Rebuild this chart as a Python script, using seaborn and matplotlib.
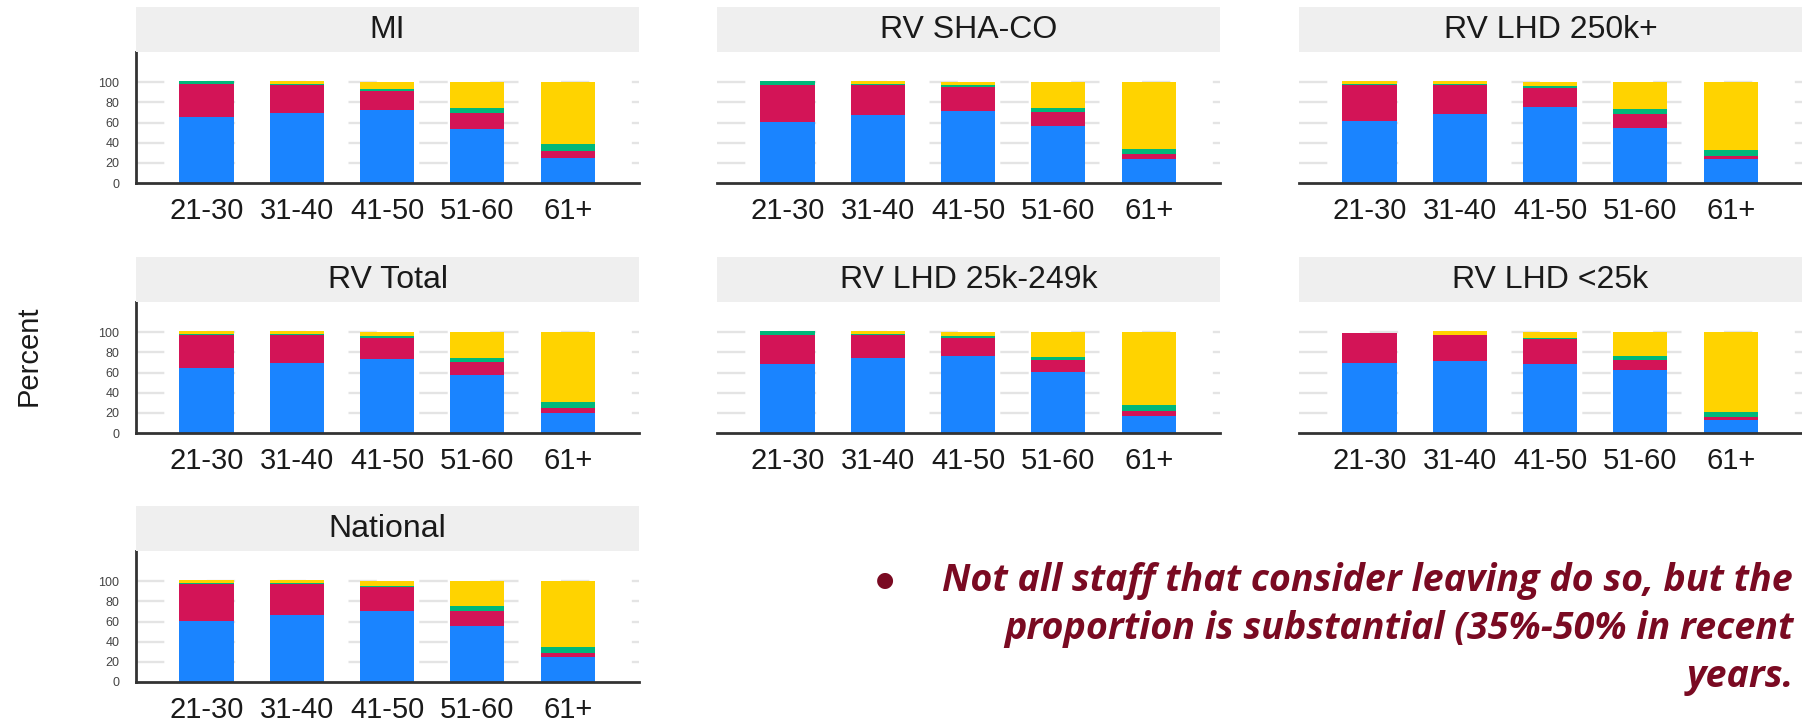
import numpy as np
import pandas as pd
import matplotlib
matplotlib.use("Agg")
import matplotlib.pyplot as plt
import seaborn as sns

# ---------------- data ----------------
PANELS = ["MI", "RV SHA-CO", "RV LHD 250k+", "RV Total",
          "RV LHD 25k-249k", "RV LHD <25k", "National"]
AGES = ["21-30", "31-40", "41-50", "51-60", "61+"]

# bottom segment (blue)
BLUE = [
    [65.8, 69.0, 72.4, 53.3, 24.7],
    [60.9, 67.1, 71.4, 56.6, 24.3],
    [61.2, 68.4, 75.0, 55.0, 23.4],
    [64.6, 69.8, 73.4, 58.0, 20.3],
    [68.5, 74.8, 76.0, 60.3, 16.7],
    [69.5, 71.5, 68.5, 62.6, 13.1],
    [61.0, 66.9, 70.5, 55.7, 24.6],
]
# second segment (crimson)
RED = [
    [32.2, 28.4, 18.6, 15.7, 6.6],
    [36.8, 30.3, 24.3, 13.8, 4.0],
    [36.5, 29.0, 19.0, 13.0, 3.6],
    [33.1, 27.9, 21.0, 12.5, 4.3],
    [28.9, 22.6, 18.4, 12.5, 5.6],
    [30.2, 25.9, 24.9, 9.5, 3.0],
    [36.7, 30.8, 23.6, 15.1, 3.9],
]
# third segment (green)
GREEN = [
    [3.3, 0.5, 1.8, 5.0, 7.5],
    [3.6, 1.0, 2.0, 3.9, 5.9],
    [0.5, 0.5, 2.0, 5.7, 6.2],
    [0.7, 1.0, 1.6, 4.3, 5.9],
    [3.6, 0.6, 1.6, 2.2, 5.6],
    [0.0, 0.0, 0.5, 3.9, 5.2],
    [0.7, 1.0, 1.6, 4.3, 6.3],
]
# top segment (yellow)
YELLOW = [
    [0.0, 3.0, 7.2, 26.0, 61.2],
    [0.0, 2.9, 2.3, 25.7, 65.8],
    [3.1, 3.4, 4.0, 26.3, 66.8],
    [3.2, 2.3, 4.0, 25.2, 69.5],
    [0.0, 3.0, 4.0, 25.0, 72.1],
    [0.0, 3.6, 6.1, 24.0, 78.7],
    [3.2, 2.6, 4.3, 24.9, 65.2],
]
YTICKS = [0, 20, 40, 60, 80, 100]

NOTE_LINES = ["Not all staff that consider leaving do so, but the",
              "proportion is substantial (35%-50% in recent",
              "years."]

COL_BLUE = "#1A84FF"
COL_RED = "#D31457"
COL_GREEN = "#00B87A"
COL_YELLOW = "#FFD300"
TXT_RED = "#7A0A22"

# ---------------- layout ----------------
W, H = 1802, 724
fig = plt.figure(figsize=(W / 100, H / 100), dpi=100)
sns.set_style("white")
plt.rcParams["font.family"] = ["Liberation Sans", "DejaVu Sans"]

COL_LEFT = [136, 717, 1299]
ROW_TOP = [52, 302, 551]
AX_W, AX_H, STRIP_H = 503, 131, 45
positions = [(0, 0), (0, 1), (0, 2), (1, 0), (1, 1), (1, 2), (2, 0)]


def fig_rect(left, top, w, h):
    return [left / W, 1 - (top + h) / H, w / W, h / H]


for i, name in enumerate(PANELS):
    r, c = positions[i]
    left, top = COL_LEFT[c], ROW_TOP[r]
    ax = fig.add_axes(fig_rect(left, top, AX_W, AX_H))
    sax = fig.add_axes(fig_rect(left, top - STRIP_H, AX_W, STRIP_H))

    b = np.array(BLUE[i]); rd = np.array(RED[i])
    g = np.array(GREEN[i]); y = np.array(YELLOW[i])
    layers = [(b + rd + g + y, COL_YELLOW), (b + rd + g, COL_GREEN),
              (b + rd, COL_RED), (b, COL_BLUE)]
    for vals, col in layers:
        df = pd.DataFrame({"age": AGES, "value": vals})
        sns.barplot(data=df, x="age", y="value", order=AGES, color=col,
                    saturation=1, width=0.6, linewidth=0, errorbar=None,
                    ax=ax, zorder=3)

    ax.set_xlim(-0.78, 4.79)
    ax.set_ylim(0, 130)
    ax.set_xlabel("")
    ax.set_ylabel("")
    ax.set_yticks(YTICKS)
    ax.grid(False)
    for yt in YTICKS[1:]:
        ax.axhline(yt, color="#E4E4E4", lw=1.7, ls=(0, (12, 18)), zorder=1)
    for s in ["top", "right"]:
        ax.spines[s].set_visible(False)
    ax.spines["bottom"].set_color("#333333")
    ax.spines["bottom"].set_linewidth(2.0)
    ax.spines["bottom"].set_zorder(5)
    ax.tick_params(axis="x", length=0, pad=10, labelsize=21, labelcolor="#1a1a1a")
    if c == 0:
        ax.spines["left"].set_color("#333333")
        ax.spines["left"].set_linewidth(2.0)
        ax.tick_params(axis="y", length=9, width=1.6, color="#333333",
                       pad=3, labelsize=9, labelcolor="#444444")
    else:
        ax.spines["left"].set_visible(False)
        ax.tick_params(axis="y", length=0, labelleft=False)
    ax.set_facecolor("white")

    sax.set_facecolor("#EFEFEF")
    for s in sax.spines.values():
        s.set_visible(False)
    sax.set_xticks([])
    sax.set_yticks([])
    sax.text(0.5, 0.48, name, ha="center", va="center", fontsize=23,
             color="#1a1a1a", transform=sax.transAxes)

fig.text(29 / W, 1 - 356 / H, "Percent", rotation=90, ha="center",
         va="center", fontsize=21, color="#1a1a1a")

# ---------------- annotation text ----------------
fig.text(885 / W, 1 - 580 / H, "\u25CF", ha="center", va="center",
         fontsize=15, color=TXT_RED, family="DejaVu Sans")

ann = dict(color=TXT_RED, family=["Open Sans", "DejaVu Sans"],
           weight="bold", style="italic", va="baseline")
renderer = fig.canvas.get_renderer()


def text_width(s, size):
    t = fig.text(0, 0, s, fontsize=size, ha="left", **ann)
    w = t.get_window_extent(renderer).width
    t.remove()
    return w


# fit the size so the first line runs from its start to just inside the edge
LINE_LEFT, RIGHT_EDGE = 942, 1794
probe = 20.0
size = probe * (RIGHT_EDGE - LINE_LEFT) / text_width(NOTE_LINES[0], probe)

fig.text(LINE_LEFT / W, 1 - 591 / H, NOTE_LINES[0], fontsize=size, ha="left", **ann)
fig.text(RIGHT_EDGE / W, 1 - 639 / H, NOTE_LINES[1], fontsize=size, ha="right", **ann)
fig.text(RIGHT_EDGE / W, 1 - 687 / H, NOTE_LINES[2], fontsize=size, ha="right", **ann)

fig.savefig("out.png", dpi=100)
